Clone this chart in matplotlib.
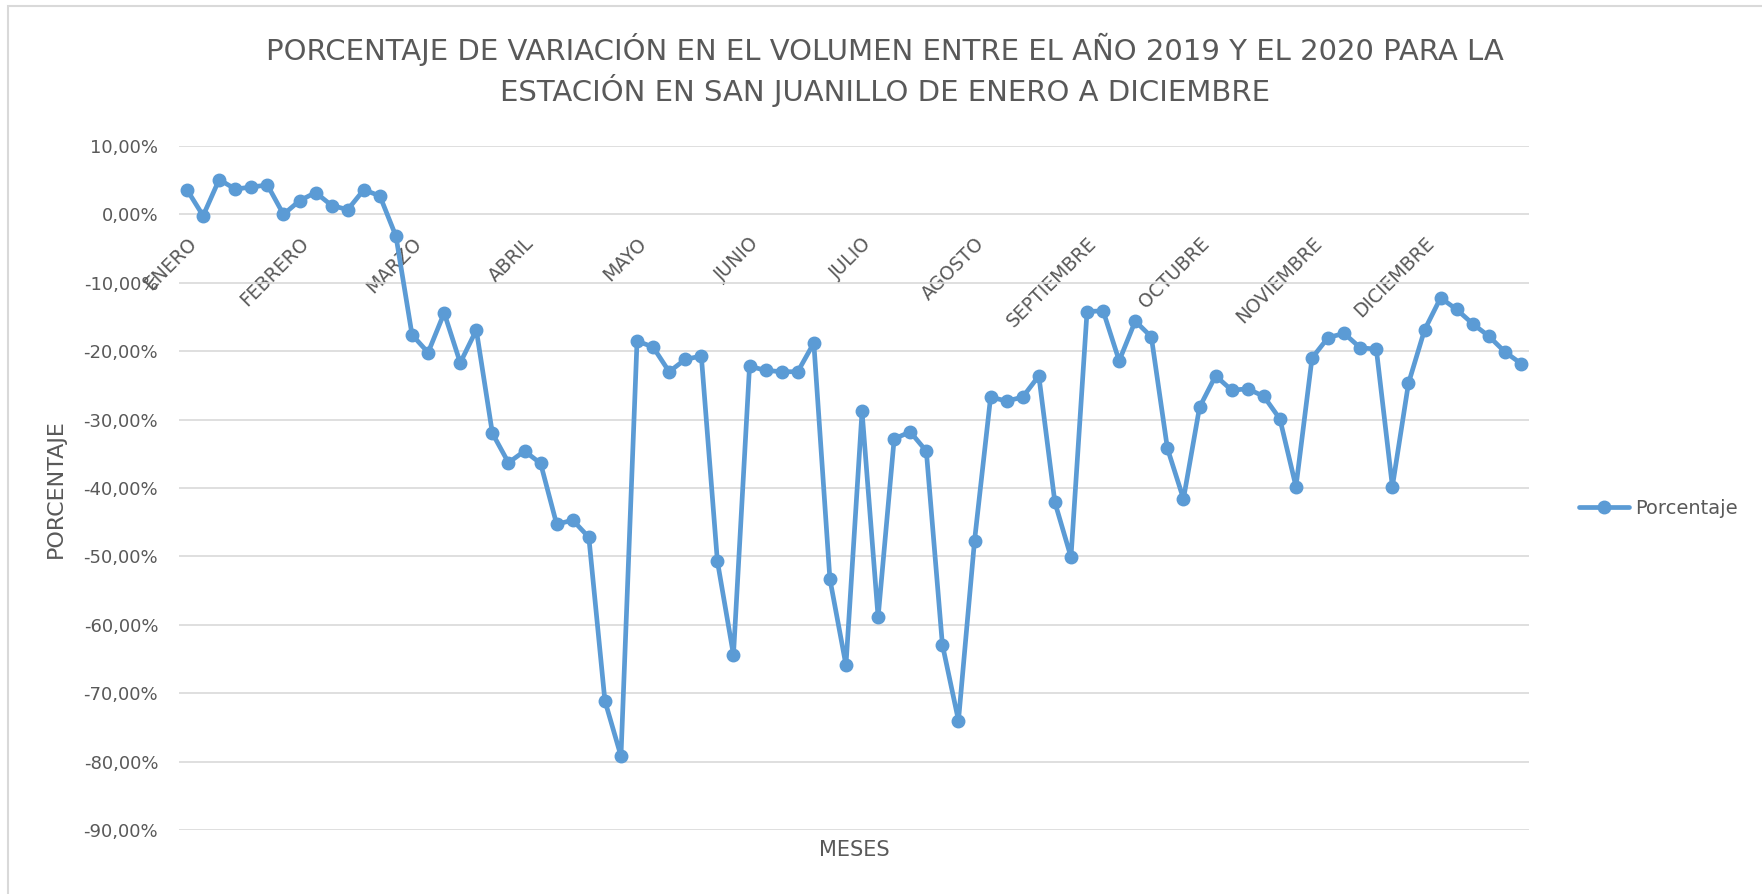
"""
Porcentaje de variacion del volumen 2019 vs 2020, estacion San Juanillo.
"""

import matplotlib
matplotlib.use('Agg')
import matplotlib.pyplot as plt
from matplotlib.patches import Rectangle
from matplotlib.ticker import FuncFormatter, MultipleLocator

meses = ['ENERO', 'FEBRERO', 'MARZO', 'ABRIL', 'MAYO', 'JUNIO', 'JULIO',
         'AGOSTO', 'SEPTIEMBRE', 'OCTUBRE', 'NOVIEMBRE', 'DICIEMBRE']

# one value per week, 7 weeks per month label
porcentaje = [
    3.6, -0.2, 5.1, 3.7, 4.0, 4.3, 0.0,
    2.0, 3.2, 1.3, 0.7, 3.6, 2.7, -3.2,
    -17.6, -20.2, -14.4, -21.7, -16.9, -32.0, -36.3,
    -34.6, -36.4, -45.3, -44.7, -47.2, -71.1, -79.2,
    -18.5, -19.4, -23.0, -21.2, -20.7, -50.7, -64.4,
    -22.2, -22.8, -23.0, -23.0, -18.8, -53.3, -65.9,
    -28.8, -58.9, -32.8, -31.8, -34.6, -62.9, -74.0,
    -47.7, -26.7, -27.3, -26.7, -23.6, -42.1, -50.1,
    -14.2, -14.1, -21.4, -15.6, -17.9, -34.2, -41.6,
    -28.2, -23.6, -25.7, -25.5, -26.6, -29.9, -39.8,
    -21.0, -18.0, -17.4, -19.5, -19.7, -39.8, -24.7,
    -16.9, -12.2, -13.9, -16.0, -17.8, -20.1, -21.8,
]

W, H = 1762, 894
gris = '#595959'
azul = '#5B9BD5'

fig = plt.figure(figsize=(W / 100, H / 100), dpi=100)
ax = fig.add_axes([179 / W, 1 - 830 / H, 1350 / W, 684 / H])

x = list(range(len(porcentaje)))
ax.plot(x, porcentaje, color=azul, lw=3.4, marker='o', ms=9,
        solid_capstyle='round', label='Porcentaje')

ax.set_xlim(-0.5, len(porcentaje) - 0.5)
ax.set_ylim(-90, 10)
ax.yaxis.set_major_locator(MultipleLocator(10))
ax.yaxis.set_major_formatter(FuncFormatter(lambda v, p: f'{v:.2f}%'.replace('.', ',')))
ax.grid(axis='y', color='#D9D9D9', lw=1.2)
ax.set_axisbelow(True)
for s in ['top', 'right', 'left']:
    ax.spines[s].set_visible(False)
# category axis crosses at 0, line hidden
ax.spines['bottom'].set_position(('data', 0))
ax.spines['bottom'].set_color('none')

ax.set_xticks(range(0, len(porcentaje), 7))
ax.set_xticklabels(meses, rotation=45, ha='right', rotation_mode='anchor')
ax.tick_params(axis='x', length=0, pad=14, labelsize=13.5, labelcolor=gris)
ax.tick_params(axis='y', length=0, pad=15, labelsize=13, labelcolor=gris)

fig.text(885 / W, 1 - 70 / H,
         'PORCENTAJE DE VARIACIÓN EN EL VOLUMEN ENTRE EL AÑO 2019 Y EL 2020 PARA LA\n'
         'ESTACIÓN EN SAN JUANILLO DE ENERO A DICIEMBRE',
         ha='center', va='center', fontsize=21, color=gris, linespacing=1.3)
fig.text(56 / W, 1 - 489 / H, 'PORCENTAJE', rotation=90, ha='center', va='center',
         fontsize=16, color=gris)
fig.text(854 / W, 1 - 850 / H, 'MESES', ha='center', va='center', fontsize=15, color=gris)

ax.legend(loc='center left', bbox_to_anchor=(1561 / W, 1 - 508 / H),
          bbox_transform=fig.transFigure, frameon=False, fontsize=14,
          labelcolor=gris, handlelength=2.6, handletextpad=0.3)

# chart area border (left and top edges visible)
fig.patches.append(Rectangle((8 / W, -0.1), 1.2, 1.1 - 6 / H, transform=fig.transFigure,
                             fill=False, edgecolor='#D9D9D9', lw=1.5))

fig.savefig('out.png', dpi=100)
